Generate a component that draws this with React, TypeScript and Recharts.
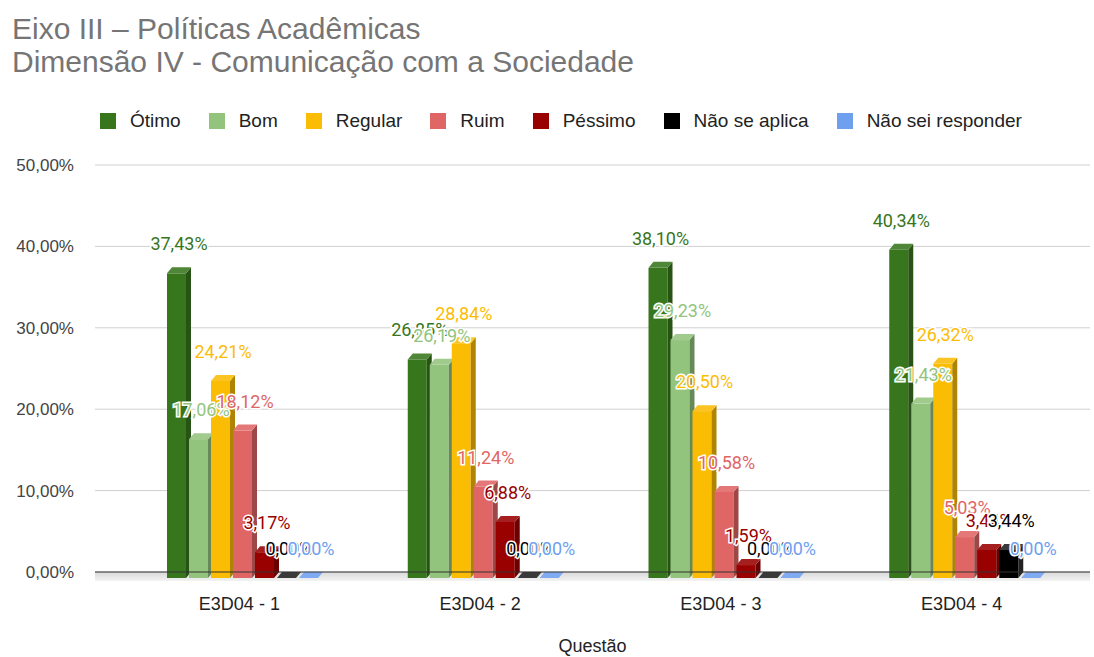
import { Bar, BarChart, CartesianGrid, XAxis, YAxis } from "recharts";

const categories = ["E3D04 - 1", "E3D04 - 2", "E3D04 - 3", "E3D04 - 4"];
const otimo = [37.43, 26.85, 38.1, 40.34];
const bom = [17.06, 26.19, 29.23, 21.43];
const regular = [24.21, 28.84, 20.5, 26.32];
const ruim = [18.12, 11.24, 10.58, 5.03];
const pessimo = [3.17, 6.88, 1.59, 3.44];
const naoSeAplica = [0, 0, 0, 3.44];
const naoSei = [0, 0, 0, 0];
const yTicks = [0, 10, 20, 30, 40, 50];

const series = [
  { key: "otimo", name: "Ótimo", color: "#38761d", values: otimo },
  { key: "bom", name: "Bom", color: "#93c47d", values: bom },
  { key: "regular", name: "Regular", color: "#fbbc04", values: regular },
  { key: "ruim", name: "Ruim", color: "#e06666", values: ruim },
  { key: "pessimo", name: "Péssimo", color: "#990000", values: pessimo },
  { key: "na", name: "Não se aplica", color: "#000000", values: naoSeAplica },
  { key: "ns", name: "Não sei responder", color: "#6fa0f0", values: naoSei },
];

const data = categories.map((name, i) => {
  const row: Record<string, string | number> = { name };
  series.forEach((s) => (row[s.key] = s.values[i]));
  return row;
});

const ARIAL = "'Liberation Sans', Arial, sans-serif";
const ROBOTO = "Roboto, 'Noto Sans', sans-serif";
const W = 1094;
const H = 657;
const DX = 5;
const DY = 6;

const pct = (v: number) => v.toFixed(2).replace(".", ",") + "%";

function mix(hex: string, target: number, amt: number) {
  const n = parseInt(hex.slice(1), 16);
  const ch = [(n >> 16) & 255, (n >> 8) & 255, n & 255].map((c) =>
    Math.round(c + (target - c) * amt)
  );
  return `rgb(${ch.join(",")})`;
}

// barra com aparência 3D (face frontal deslocada, topo e lateral)
function Bar3D(props: any) {
  const { x, y, width: w, height: h, fill } = props;
  if (x == null || y == null) return null;
  const fx = x - DX;
  const fy = y + DY;
  const top = fill === "#000000" ? "#3a3a3a" : mix(fill, 255, 0.12);
  const side = fill === "#000000" ? "#222" : mix(fill, 0, 0.3);
  return (
    <g>
      {h > 0 && <rect x={fx} y={fy} width={w} height={h} fill={fill} />}
      {h > 0 && (
        <polygon
          points={`${fx + w},${fy} ${x + w},${y} ${x + w},${y + h} ${fx + w},${fy + h}`}
          fill={side}
        />
      )}
      <polygon points={`${fx},${fy} ${fx + w},${fy} ${x + w},${y} ${x},${y}`} fill={top} />
    </g>
  );
}

// rótulo desenhado como "shape" de uma barra invisível (aparece também para 0%)
function makeLabel(key: string, color: string) {
  return (props: any) => {
    const { x, y, width, payload } = props;
    if (x == null || y == null) return null;
    return (
      <text
        x={x + width / 2 - DX / 2}
        y={y - 17}
        textAnchor="middle"
        fontSize={18}
        fontFamily={ROBOTO}
        fill={color}
        stroke="#fff"
        strokeWidth={3}
        paintOrder="stroke"
      >
        {pct(Number(payload[key]))}
      </text>
    );
  };
}

function Legend() {
  return (
    <div
      style={{
        position: "absolute",
        top: 111,
        left: 100,
        display: "flex",
        gap: 28,
        fontSize: 19,
        lineHeight: "19px",
        color: "#222",
        fontFamily: ARIAL,
      }}
    >
      {series.map((s) => (
        <div key={s.key} style={{ display: "flex", alignItems: "center", gap: 14 }}>
          <span style={{ width: 16, height: 16, background: s.color, display: "inline-block" }} />
          <span>{s.name}</span>
        </div>
      ))}
    </div>
  );
}

export default function App() {
  return (
    <div style={{ position: "absolute", left: 0, top: 0, width: W, height: H, background: "#fff", fontFamily: ARIAL }}>
      <div style={{ position: "absolute", left: 12, top: 12, color: "#757575", fontSize: 30, lineHeight: "33px" }}>
        <div>Eixo III – Políticas Acadêmicas</div>
        <div>Dimensão IV - Comunicação com a Sociedade</div>
      </div>
      <Legend />
      {/* piso do gráfico 3D */}
      <div
        style={{
          position: "absolute",
          left: 95,
          top: 572,
          width: 995,
          height: 9,
          background: "linear-gradient(#d9d9d9, #f3f3f3)",
        }}
      />
      <div style={{ position: "absolute", left: 0, top: 0 }}>
        <BarChart
          width={W}
          height={H}
          data={data}
          margin={{ top: 165, right: 4, bottom: 45, left: 0 }}
          barSize={19}
          barGap={3}
          barCategoryGap={44}
        >
          <CartesianGrid vertical={false} stroke="#d0d0d0" />
          <XAxis
            dataKey="name"
            height={40}
            padding={{ left: 32, right: 0 }}
            tickLine={false}
            tickSize={0}
            tickMargin={25}
            axisLine={{ stroke: "#333" }}
            tick={{ fill: "#222", fontSize: 18, fontFamily: ARIAL, dx: -8 }}
            label={{ value: "Questão", position: "insideBottom", offset: -40, fill: "#222", fontSize: 18, fontFamily: ARIAL }}
          />
          <YAxis
            width={95}
            domain={[0, 50]}
            ticks={yTicks}
            tickFormatter={pct}
            axisLine={false}
            tickLine={false}
            tickSize={0}
            tickMargin={21}
            tick={{ fill: "#444", fontSize: 17, fontFamily: ARIAL }}
          />
          {series.map((s) => (
            <Bar key={s.key} dataKey={s.key} name={s.name} fill={s.color} shape={Bar3D} isAnimationActive={false} />
          ))}
        </BarChart>
      </div>
      {/* camada dos rótulos por cima de todas as barras */}
      <div style={{ position: "absolute", left: 0, top: 0 }}>
        <BarChart
          width={W}
          height={H}
          data={data}
          margin={{ top: 165, right: 4, bottom: 85, left: 95 }}
          barSize={19}
          barGap={3}
          barCategoryGap={44}
        >
          <XAxis dataKey="name" hide padding={{ left: 32, right: 0 }} />
          <YAxis hide domain={[0, 50]} ticks={yTicks} />
          {series.map((s) => (
            <Bar key={s.key} dataKey={s.key} fill="none" shape={makeLabel(s.key, s.color)} isAnimationActive={false} />
          ))}
        </BarChart>
      </div>
    </div>
  );
}
